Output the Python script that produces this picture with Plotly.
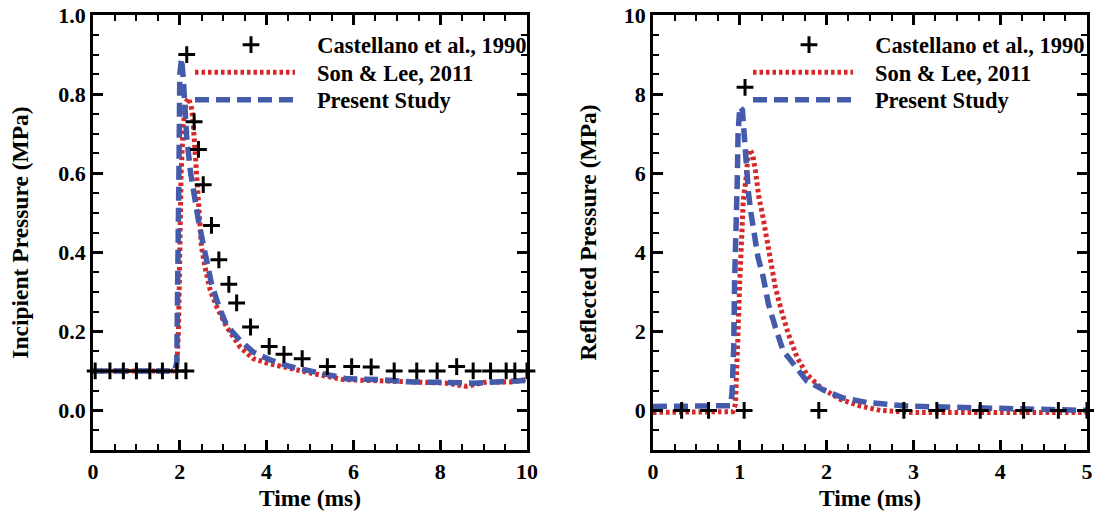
import plotly.graph_objects as go

# ---------------- Left panel: incipient pressure ----------------
cast_l_t = [0.05, 0.39, 0.70, 1.00, 1.31, 1.60, 1.93, 2.14, 2.16, 2.33, 2.43, 2.54, 2.73, 2.90, 3.13, 3.31,
            3.63, 4.06, 4.40, 4.82, 5.40, 5.96, 6.41, 6.94, 7.46, 7.93, 8.38, 8.76, 9.16, 9.52, 9.72, 10.0]
cast_l_p = [0.10, 0.10, 0.10, 0.10, 0.10, 0.10, 0.10, 0.10, 0.90, 0.73, 0.66, 0.571, 0.468, 0.381, 0.319, 0.272,
            0.211, 0.162, 0.142, 0.131, 0.111, 0.111, 0.110, 0.10, 0.10, 0.10, 0.111, 0.10, 0.10, 0.10, 0.10, 0.10]

son_l_t = [0.0, 1.0, 1.85, 1.93, 1.97, 2.0, 2.03, 2.08, 2.14, 2.2, 2.26, 2.3, 2.35, 2.39, 2.43, 2.5, 2.58, 2.7,
           2.85, 3.08, 3.39, 3.69, 4.0, 4.46, 5.08, 5.77, 6.6, 7.38, 8.15, 8.6, 9.07, 9.68, 9.95, 10.0]
son_l_p = [0.10, 0.10, 0.10, 0.11, 0.20, 0.40, 0.60, 0.72, 0.78, 0.79, 0.77, 0.74, 0.66, 0.58, 0.498, 0.413, 0.363, 0.304,
           0.262, 0.211, 0.160, 0.131, 0.12, 0.108, 0.093, 0.078, 0.076, 0.072, 0.069, 0.061, 0.072, 0.072, 0.078, 0.08]

pre_l_t = [0.0, 1.0, 1.88, 1.93, 1.96, 1.98, 2.0, 2.04, 2.08, 2.16, 2.25, 2.35, 2.43, 2.54, 2.62, 2.73, 2.89, 3.08,
           3.39, 3.69, 4.08, 4.54, 5.0, 5.85, 6.61, 7.38, 8.15, 8.76, 9.3, 9.84, 10.0]
pre_l_p = [0.10, 0.10, 0.10, 0.12, 0.30, 0.60, 0.85, 0.89, 0.84, 0.69, 0.60, 0.53, 0.48, 0.42, 0.371, 0.321, 0.266, 0.215,
           0.177, 0.148, 0.128, 0.111, 0.10, 0.08, 0.078, 0.072, 0.071, 0.069, 0.072, 0.076, 0.076]

# ---------------- Right panel: reflected pressure ----------------
cast_r_t = [0.33, 0.64, 1.05, 1.06, 1.91, 2.89, 3.27, 3.77, 4.27, 4.67, 5.0]
cast_r_p = [0.0, 0.0, 0.0, 8.17, 0.0, 0.0, 0.0, 0.0, 0.0, 0.0, 0.0]

son_r_t = [0.0, 0.5, 0.92, 0.95, 0.97, 0.98, 1.0, 1.02, 1.04, 1.07, 1.09, 1.12, 1.15, 1.18, 1.22, 1.26, 1.30, 1.36,
           1.41, 1.49, 1.56, 1.66, 1.77, 1.93, 2.16, 2.39, 2.62, 3.0, 4.0, 5.0]
son_r_p = [-0.05, -0.05, -0.03, 0.16, 1.09, 2.0, 3.28, 4.55, 5.31, 5.82, 6.32, 6.6, 6.45, 6.07, 5.39, 4.97, 4.47, 3.71,
           3.11, 2.44, 1.93, 1.34, 0.92, 0.58, 0.28, 0.11, 0.0, -0.05, -0.05, -0.05]

pre_r_t = [0.0, 0.5, 0.89, 0.91, 0.93, 0.94, 0.95, 0.97, 0.98, 1.0, 1.03, 1.05, 1.07, 1.10, 1.13, 1.17, 1.21, 1.27,
           1.33, 1.41, 1.5, 1.62, 1.77, 1.97, 2.2, 2.47, 2.93, 3.69, 4.46, 4.95, 5.0]
pre_r_p = [0.1, 0.1, 0.12, 0.41, 1.59, 3.28, 4.97, 5.73, 7.0, 7.68, 7.6, 7.0, 6.2, 5.5, 4.97, 4.38, 3.87, 3.37,
           2.69, 2.10, 1.51, 1.17, 0.75, 0.51, 0.31, 0.2, 0.11, 0.07, 0.03, 0.0, 0.0]

names = ["Castellano et al., 1990", "Son & Lee, 2011", "Present Study"]

RED = "rgb(214,40,40)"
BLUE = "rgb(68,90,170)"
FAM = "Liberation Serif"
TICKFONT = dict(family=FAM, size=22, color="black", weight=700)
TITLEFONT = dict(family=FAM, size=23.5, color="black", weight=700)
LEGFONT = dict(family=FAM, size=22.5, color="black", weight=700)
NB = "\u00a0"

fig = go.Figure()

def add_panel(xa, ya, legs, ct, cp, st, sp, pt, pp):
    fig.add_trace(go.Scatter(x=st, y=sp, mode="lines", name=NB * 3 + names[1], legend=legs[1],
                             line=dict(color=RED, width=5, dash="3.5px,3px"), xaxis=xa, yaxis=ya))
    fig.add_trace(go.Scatter(x=pt, y=pp, mode="lines", name=NB * 3 + names[2], legend=legs[2],
                             line=dict(color=BLUE, width=5.5, dash="14px,7px"), xaxis=xa, yaxis=ya))
    fig.add_trace(go.Scatter(x=ct, y=cp, mode="markers", name=NB * 2 + names[0], legend=legs[0],
                             marker=dict(symbol="cross-thin", size=12, line=dict(color="black", width=3)),
                             cliponaxis=False, xaxis=xa, yaxis=ya))

add_panel("x", "y", ["legend", "legend2", "legend3"], cast_l_t, cast_l_p, son_l_t, son_l_p, pre_l_t, pre_l_p)
add_panel("x2", "y2", ["legend4", "legend5", "legend6"], cast_r_t, cast_r_p, son_r_t, son_r_p, pre_r_t, pre_r_p)

W, H = 1094, 515
TOP, BOT = 15, 65
PH = H - TOP - BOT

def xax(dom, rng, dt, mdt):
    return dict(domain=dom, range=rng, dtick=dt, tick0=0, ticks="inside", ticklen=10, tickwidth=2.5,
                minor=dict(dtick=mdt, tick0=0, ticks="inside", ticklen=6, tickwidth=1.5, tickcolor="black"),
                showline=True, linewidth=2.5, linecolor="black", tickcolor="black", mirror="ticks",
                showgrid=False, zeroline=False, tickfont=TICKFONT, ticklabeloverflow="allow",
                title=dict(text="Time (ms)", font=TITLEFONT, standoff=7), automargin=False)

def yax(rng, dt, mdt, title, fmt, anchor, so):
    return dict(domain=[0, 1], range=rng, dtick=dt, tick0=0, ticks="inside", ticklen=10, tickwidth=2.5,
                minor=dict(dtick=mdt, tick0=0, ticks="inside", ticklen=6, tickwidth=1.5, tickcolor="black"),
                showline=True, linewidth=2.5, linecolor="black", tickcolor="black", mirror="ticks",
                showgrid=False, zeroline=False, tickfont=TICKFONT, tickformat=fmt, anchor=anchor,
                ticklabeloverflow="allow",
                title=dict(text=title, font=TITLEFONT, standoff=so), automargin=False)

def leg(xs, ys):
    # xs, ys: pixel position of the legend box's left edge / row centre
    return dict(x=xs / W, y=1 - (ys - 21.5 - TOP) / PH, xanchor="left", yanchor="top",
                bgcolor="rgba(0,0,0,0)", font=LEGFONT, itemwidth=100)

fig.update_layout(
    width=W, height=H,
    showlegend=True,
    margin=dict(l=0, r=0, t=TOP, b=BOT),
    paper_bgcolor="white", plot_bgcolor="white",
    xaxis=xax([93 / W, 527 / W], [0, 10], 2, 0.5),
    yaxis=yax([-0.1, 1.0], 0.2, 0.05, "Incipient Pressure (MPa)", ".1f", "x", 24),
    xaxis2=dict(xax([653 / W, 1087 / W], [0, 5], 1, 0.25), anchor="y2"),
    yaxis2=yax([-1, 10], 2, 0.5, "Reflected Pressure (MPa)", "d", "x2", 21),
    legend=leg(196, 45), legend2=leg(190, 72.5), legend3=leg(190, 100),
    legend4=leg(754, 45), legend5=leg(748, 72.5), legend6=leg(748, 100),
)

fig.write_html("out.html", config={"displayModeBar": False},
               post_script="document.body.style.margin='0';")
